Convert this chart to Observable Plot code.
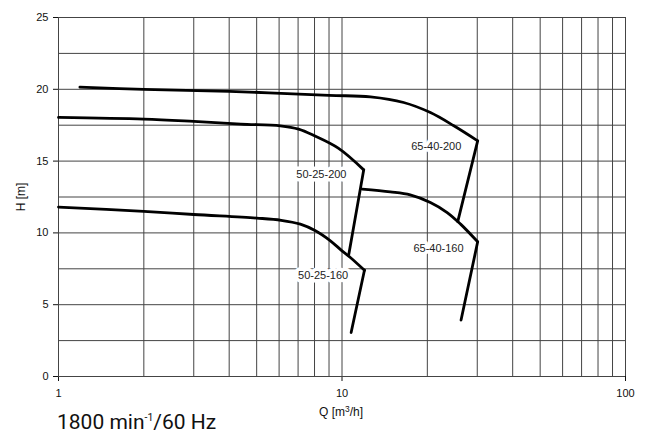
<!DOCTYPE html>
<html>
<head>
<meta charset="utf-8">
<script src="https://cdn.jsdelivr.net/npm/d3@7"></script>
<script src="https://cdn.jsdelivr.net/npm/@observablehq/plot@0.6"></script>
<style>
  html, body { margin: 0; padding: 0; background: #fff; }
  #wrap { position: relative; width: 648px; height: 437px; }
  #title { position: absolute; left: 57px; top: 412px; font-family: Roboto, "Liberation Sans", sans-serif; font-size: 21px; color: #111; white-space: nowrap; line-height: 1; }
  #title sup { font-size: 0.5em; vertical-align: 0.8em; }
  .axlab { position: absolute; font-family: "Liberation Sans", Arial, sans-serif; font-size: 12px; color: #111; white-space: nowrap; line-height: 1; }
  #xlab { left: 341px; top: 412px; transform: translate(-50%, -50%); }
  #ylab { left: 21px; top: 197px; transform: translate(-50%, -50%) rotate(-90deg); }
  #xlab sup { font-size: 0.7em; vertical-align: 0.45em; line-height: 0; }
</style>
</head>
<body>
<div id="wrap">
  <div id="chart"></div>
  <div id="xlab" class="axlab">Q [m<sup>3</sup>/h]</div>
  <div id="ylab" class="axlab">H [m]</div>
  <div id="title">1800 min<sup>-1</sup>/60 Hz</div>
</div>
<script>
// Pump curves: flow Q [m3/h], head H [m]
const p65_200_Q = [1.19, 2, 4, 9, 12.6, 16.5, 20.5, 24.8, 30.1];
const p65_200_H = [20.15, 20.0, 19.86, 19.58, 19.47, 19.08, 18.38, 17.46, 16.41];
const p65_200_dropQ = [30.1, 25.6];
const p65_200_dropH = [16.41, 10.79];

const p50_200_Q = [1, 2, 3, 4.4, 6.06, 7.03, 8.0, 9.7, 11.93];
const p50_200_H = [18.04, 17.92, 17.76, 17.58, 17.46, 17.23, 16.76, 15.9, 14.39];
const p50_200_dropQ = [11.93, 10.57];
const p50_200_dropH = [14.39, 8.52];

const p65_160_Q = [11.78, 14.8, 17.4, 20.5, 23.5, 26.2, 30.1];
const p65_160_H = [13.05, 12.86, 12.65, 12.12, 11.42, 10.61, 9.38];
const p65_160_dropQ = [30.1, 26.3];
const p65_160_dropH = [9.38, 3.93];

const p50_160_Q = [1, 2, 3, 5, 6.1, 7.13, 8.06, 9.1, 10, 10.7, 12.0];
const p50_160_H = [11.8, 11.5, 11.28, 11.03, 10.88, 10.61, 10.15, 9.45, 8.75, 8.29, 7.4];
const p50_160_dropQ = [12.0, 10.77];
const p50_160_dropH = [7.4, 3.06];

const labelNames = ["65-40-200", "50-25-200", "65-40-160", "50-25-160"];
const labelQ = [21.5, 8.46, 21.9, 8.58];
const labelH = [16.0, 14.09, 8.94, 7.06];

const gridQ = [1, 2, 3, 4, 5, 6, 7, 8, 9, 10, 20, 30, 40, 50, 60, 70, 80, 90, 100];
const gridH = [0, 2.5, 5, 7.5, 10, 12.5, 15, 17.5, 20, 22.5, 25];
const tickQ = [1, 10, 100];
const tickH = [0, 5, 10, 15, 20, 25];

const toPts = (qs, hs) => qs.map((q, i) => ({q, h: hs[i]}));
const curves = [
  toPts(p65_200_Q, p65_200_H),
  toPts(p50_200_Q, p50_200_H),
  toPts(p65_160_Q, p65_160_H),
  toPts(p50_160_Q, p50_160_H)
];
const drops = [
  toPts(p65_200_dropQ, p65_200_dropH),
  toPts(p50_200_dropQ, p50_200_dropH),
  toPts(p65_160_dropQ, p65_160_dropH),
  toPts(p50_160_dropQ, p50_160_dropH)
];
const labels = labelNames.map((n, i) => ({n, q: labelQ[i], h: labelH[i]}));

const chart = Plot.plot({
  width: 648,
  height: 437,
  marginLeft: 58,
  marginRight: 23,
  marginTop: 17,
  marginBottom: 61,
  style: {fontFamily: "'Liberation Sans', Arial, sans-serif", fontSize: "11px", color: "#111", background: "#fff"},
  x: {type: "log", domain: [1, 100], ticks: tickQ, tickFormat: d => String(d), tickSize: 5, tickPadding: 8, label: null},
  y: {domain: [0, 25], ticks: tickH, tickSize: 5, tickPadding: 5, label: null},
  marks: [
    Plot.ruleX(gridQ, {stroke: "#444", strokeWidth: 1}),
    Plot.ruleY(gridH, {stroke: "#444", strokeWidth: 1}),
    ...curves.map(c => Plot.line(c, {x: "q", y: "h", stroke: "#000", strokeWidth: 2.8, curve: "catmull-rom"})),
    ...drops.map(d => Plot.line(d, {x: "q", y: "h", stroke: "#000", strokeWidth: 2.8})),
    Plot.text(labels, {x: "q", y: "h", text: "n", fill: "#222", stroke: "#fff", strokeWidth: 7, fontSize: 11})
  ]
});
document.getElementById("chart").appendChild(chart);
</script>
</body>
</html>
